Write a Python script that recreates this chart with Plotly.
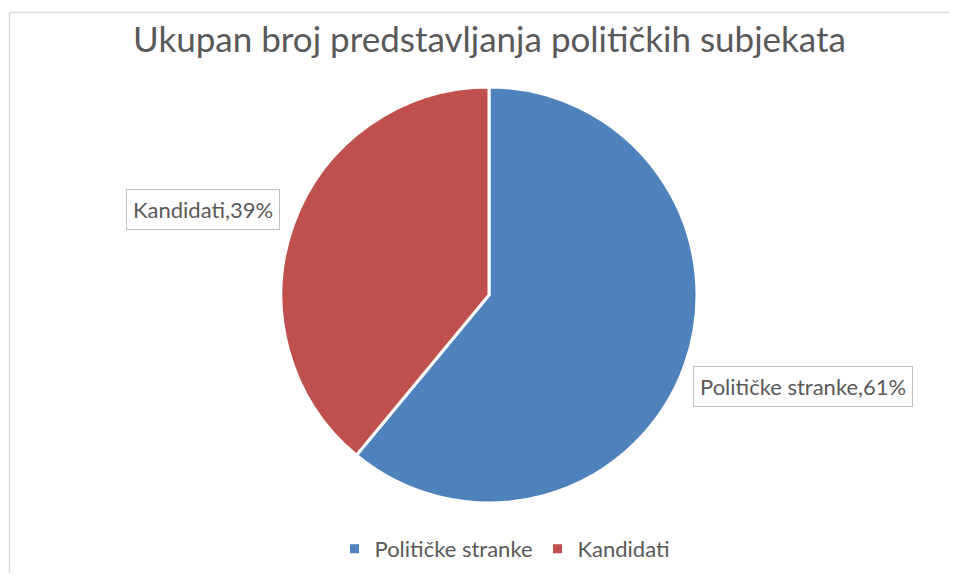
import plotly.graph_objects as go

labels = ["Političke stranke", "Kandidati"]
values = [61, 39]
colors = ["#4F81BD", "#C0504D"]
title = "Ukupan broj predstavljanja političkih subjekata"

# the page body has an 8px margin, so the figure is placed 8px in from the top-left
OFF = 8
W, H = 957 - 2 * OFF, 581 - 2 * OFF
FONT = "Lato"
GRAY = "#595959"


def px(x):
    return (x - OFF) / W


def py(y):
    return 1 - (y - OFF) / H


fig = go.Figure()
fig.add_trace(go.Pie(
    labels=labels, values=values, sort=False, direction="clockwise", rotation=0,
    marker=dict(colors=colors, line=dict(color="white", width=3)),
    textinfo="none", hoverinfo="label+percent",
    domain=dict(x=[px(281), px(697)], y=[py(503), py(87)]),
))

# data labels in boxes
total = sum(values)
label_pos = [(px(693), py(386), "left"), (px(280), py(209), "right")]
for (lab, val), (lx, ly, anc) in zip(zip(labels, values), label_pos):
    fig.add_annotation(
        x=lx, y=ly, xref="paper", yref="paper", xanchor=anc, yanchor="middle",
        text=f"{lab},{round(100 * val / total)}%", showarrow=False,
        font=dict(family=FONT, size=22, color=GRAY),
        bordercolor="#BFBFBF", borderwidth=1, borderpad=6, bgcolor="white",
    )

# chart border (left and top edges)
fig.add_shape(type="line", xref="paper", yref="paper", x0=px(9.5), x1=px(9.5), y0=0, y1=py(12.5),
              line=dict(color="#D9D9D9", width=1.5))
fig.add_shape(type="line", xref="paper", yref="paper", x0=px(9.5), x1=1, y0=py(12.5), y1=py(12.5),
              line=dict(color="#D9D9D9", width=1.5))

fig.update_layout(
    width=W, height=H,
    margin=dict(l=0, r=0, t=0, b=0),
    paper_bgcolor="white", plot_bgcolor="white",
    title=dict(text=title, x=px(489.5), xanchor="center", y=py(40), yanchor="middle",
               font=dict(family=FONT, size=35, color=GRAY)),
    legend=dict(orientation="h", x=px(505), xanchor="center", y=py(549), yanchor="middle",
                font=dict(family=FONT, size=22, color=GRAY), itemwidth=30),
    showlegend=True,
)

fig.write_html("out.html")
